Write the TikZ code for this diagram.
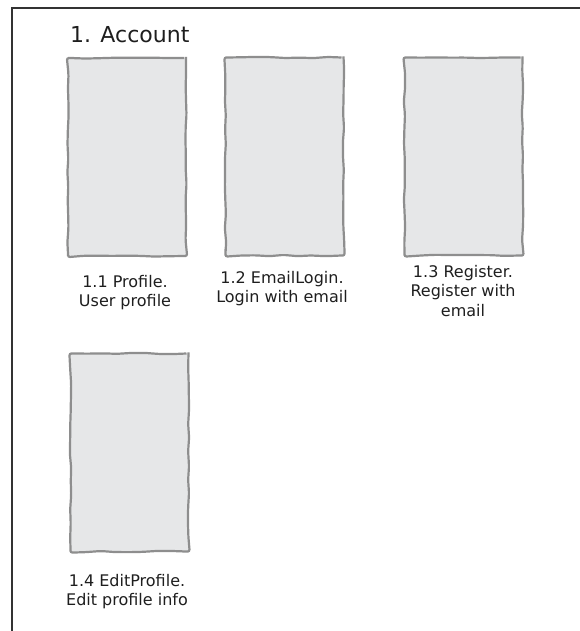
\documentclass[tikz,border=0pt]{standalone}
\usepackage{fontspec}
\setmainfont{DejaVu Sans}
\usetikzlibrary{decorations.pathmorphing}
\definecolor{screenfill}{HTML}{E6E7E8}
\definecolor{screenline}{HTML}{8E8E8E}
\definecolor{frameline}{HTML}{333333}
\definecolor{inktext}{HTML}{1E1E1E}
\tikzset{
  screen/.style={draw=screenline, fill=screenfill, line width=2.2pt,
    minimum width=118pt, minimum height=198pt, inner sep=0pt,
    decorate, decoration={random steps, segment length=14pt, amplitude=0.7pt},
    rounded corners=2pt},
  caption/.style={align=center, anchor=north, inner sep=0pt,
    font=\fontsize{16}{19.5}\selectfont, text=inktext},
  titletext/.style={anchor=base west, inner sep=0pt,
    font=\fontsize{22}{26}\selectfont, text=inktext}
}
\begin{document}
\begin{tikzpicture}[x=1pt,y=-1pt]
\pgfmathsetseed{11}
\useasboundingbox (0,0) rectangle (580,631);
\coordinate (ftl) at (12,8);
\coordinate (ftr) at (580,8);
\coordinate (fbl) at (12,631);
\draw[frameline, line width=1.4pt] (ftr) -- (ftl) -- (fbl);
\node[titletext] (title) at (70,43) {1. Account};
\node[screen] (s1) at (127,157) {};
\node[screen] (s2) at (284.5,156.5) {};
\node[screen] (s3) at (463.5,156.5) {};
\node[screen] (s4) at (129.5,452.5) {};
\node[caption] (c1) at (125,275) {1.1 Profile.\\User profile};
\node[caption] (c2) at (282,271) {1.2 EmailLogin.\\Login with email};
\node[caption] (c3) at (463,265) {1.3 Register.\\Register with\\email};
\node[caption] (c4) at (127,574) {1.4 EditProfile.\\Edit profile info};
\end{tikzpicture}
\end{document}
